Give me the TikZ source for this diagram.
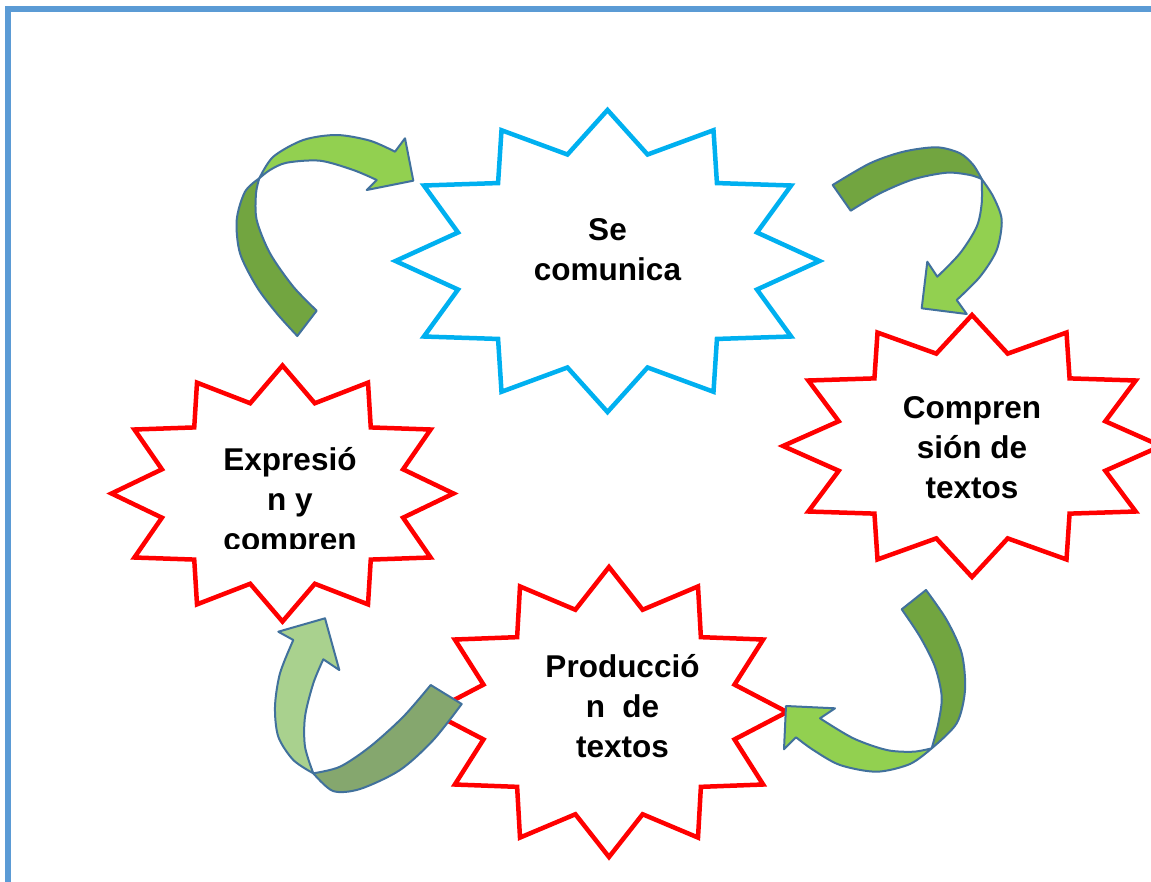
\documentclass[tikz,border=0pt]{standalone}
\usepackage{fontspec}
\setmainfont{Liberation Sans}
\definecolor{starblue}{RGB}{0,176,240}
\definecolor{starred}{RGB}{255,0,0}
\definecolor{frameblue}{RGB}{91,155,213}
\definecolor{arrline}{RGB}{65,113,156}
\definecolor{arrlight}{RGB}{146,208,80}
\definecolor{arrdark}{RGB}{114,165,64}
\definecolor{arrpale}{RGB}{169,209,142}
\definecolor{arrgrey}{RGB}{133,167,110}
\tikzset{
  starline/.style={line width=4.5pt, line join=miter, fill=white},
  bluestar/.style={starline, draw=starblue},
  redstar/.style={starline, draw=starred},
  arrowpart/.style={draw=arrline, line width=2pt, line join=round},
  startext/.style={font=\fontsize{31.5}{40}\selectfont\bfseries, align=center, inner sep=0pt, text=black},
  frameline/.style={draw=frameblue, line width=6pt}
}
\newcommand{\ls}{\rule[-9pt]{0pt}{39pt}}
% style, cx, cy, rx, ry
\newcommand{\stargon}[5]{%
  \draw[#1] ({#2+#4},{#3})
    \foreach \a in {15,45,...,315}{
      -- ({#2+0.73*#4*cos(\a)},{#3+0.73*#5*sin(\a)})
      -- ({#2+#4*cos(\a+15)},{#3+#5*sin(\a+15)})
    }
    -- ({#2+0.73*#4*cos(345)},{#3+0.73*#5*sin(345)}) -- cycle;
}
\begin{document}
\begin{tikzpicture}[x=1pt,y=-1pt]
\useasboundingbox (0,0) rectangle (1151,881);
\clip (0,0) rectangle (1151,881);
\fill[white] (0,0) rectangle (1151,881);

% frame
\draw[frameline] (8,890) -- (8,9) -- (1160,9);

% stars
\stargon{bluestar}{607.5}{261}{212}{151}
\stargon{redstar}{282.5}{493.5}{171}{128}
\stargon{redstar}{972}{446}{189}{131}
\stargon{redstar}{609}{712}{178}{145}

% texts
\node[startext] (secomunica) at (607.5,249.5) {\ls Se\\\ls comunica};
\begin{scope}
  \clip (150,400) rectangle (430,548);
  \node[startext] (expresion) at (290,499.5) {\ls Expresió\\\ls n y\\\ls compren};
\end{scope}
\node[startext] (comprension) at (972,448) {\ls Compren\\\ls sión de\\\ls textos};
\node[startext] (produccion) at (622.5,707) {\ls Producció\\\ls n~~de\\\ls textos};

% arrow 1 (top-left)
\filldraw[arrowpart, fill=arrdark]
  plot[smooth] coordinates {(259.3,178.3) (245,191.7) (236.7,220) (240,253.3) (256.7,286.7) (276.7,313.3) (297.3,336)}
  -- plot[smooth] coordinates {(316.7,310.7) (293.3,286.7) (270,253.3) (256.7,220) (256,193.3) (259.3,178.3)} -- cycle;
\filldraw[arrowpart, fill=arrlight]
  plot[smooth] coordinates {(259.3,178.3) (273.3,156.7) (303.3,140) (336.7,135) (370,140.7) (395,151.7)}
  -- (405,138.3) -- (413.3,180.7) -- (366.7,190) -- (376.7,180)
  -- plot[smooth] coordinates {(376.7,180) (353.3,170) (320,160.7) (286.7,162.7) (270,170) (259.3,178.3)} -- cycle;

% arrow 2 (top-right)
\filldraw[arrowpart, fill=arrdark]
  plot[smooth] coordinates {(832.7,185) (870,163.3) (903.3,151.7) (936.7,147.3) (960,153.3) (973.3,165) (981.7,179)}
  -- plot[smooth] coordinates {(981.7,179) (970,175) (946.7,172.7) (913.3,179.3) (880,193.3) (850.7,210.7)} -- cycle;
\filldraw[arrowpart, fill=arrlight]
  plot[smooth] coordinates {(981.7,179) (993.3,196.7) (1001.7,220) (996.7,250) (980,276.7) (956.7,300)}
  -- (966.7,314) -- (921.7,308.3) -- (927.3,261.7) -- (937.3,276.7)
  -- plot[smooth] coordinates {(937.3,276.7) (960,253.3) (976.7,226.7) (981.7,203.3) (981.7,179)} -- cycle;

% arrow 3 (bottom-right)
\filldraw[arrowpart, fill=arrdark]
  plot[smooth] coordinates {(926,590) (946.7,620) (961.7,653.3) (965,690) (956.7,723.3) (931.7,748.3)}
  -- plot[smooth] coordinates {(931.7,748.3) (938.3,723.3) (941.7,696.7) (935,666.7) (920,636.7) (901.7,609.3)} -- cycle;
\filldraw[arrowpart, fill=arrlight]
  plot[smooth] coordinates {(931.7,748.3) (910,764) (876.7,771.7) (840,765) (813.3,750) (796,737.3)}
  -- (784,749.3) -- (786,706) -- (835,708.3) -- (820,718.3)
  -- plot[smooth] coordinates {(820,718.3) (853.3,738.3) (886.7,750) (913.3,751.7) (931.7,748.3)} -- cycle;

% arrow 4 (bottom-left)
\filldraw[arrowpart, fill=arrgrey]
  plot[smooth] coordinates {(461.7,704) (433.3,740) (400,770) (360,789) (333,791) (313.3,773.3)}
  -- plot[smooth] coordinates {(313.3,773.3) (340,766.7) (370,746.7) (403.3,716.7) (430.7,685)} -- cycle;
\filldraw[arrowpart, fill=arrpale]
  plot[smooth] coordinates {(313.3,773.3) (293.3,760) (278.3,736.7) (275,706.7) (280,673.3) (293.3,640)}
  -- (278.3,631.7) -- (325,618.3) -- (339.3,670) -- (323.3,659.3)
  -- plot[smooth] coordinates {(323.3,659.3) (313.3,683.3) (305,716.7) (305,746.7) (313.3,773.3)} -- cycle;
\end{tikzpicture}
\end{document}
